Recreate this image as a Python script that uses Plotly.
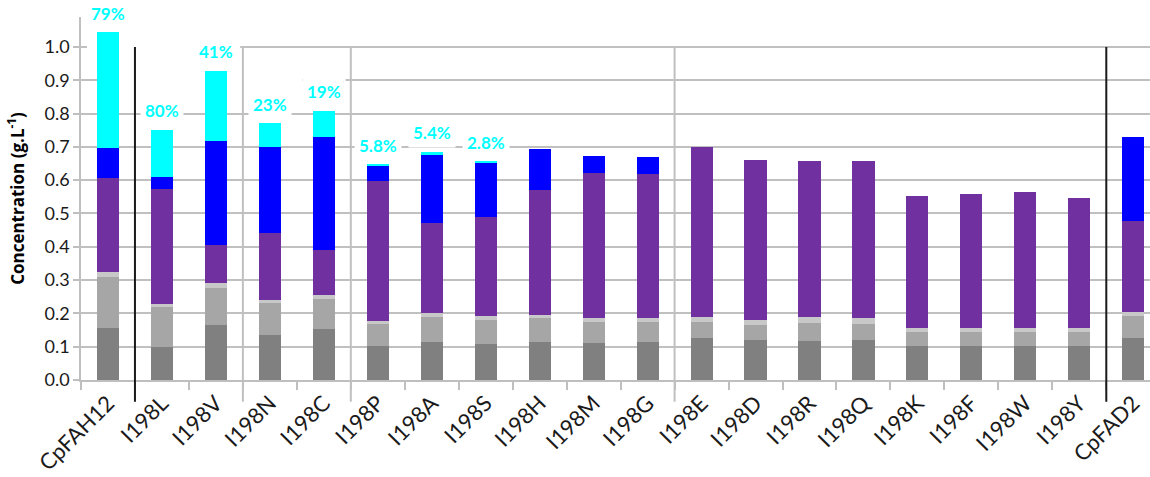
import plotly.graph_objects as go

categories = ["CpFAH12", "I198L", "I198V", "I198N", "I198C", "I198P", "I198A", "I198S",
              "I198H", "I198M", "I198G", "I198E", "I198D", "I198R", "I198Q", "I198K",
              "I198F", "I198W", "I198Y", "CpFAD2"]

seg_dark_gray = [0.157, 0.100, 0.165, 0.135, 0.152, 0.103, 0.113, 0.108, 0.113, 0.111,
                 0.113, 0.125, 0.119, 0.117, 0.120, 0.103, 0.103, 0.103, 0.103, 0.125]
seg_light_gray = [0.153, 0.120, 0.112, 0.098, 0.091, 0.065, 0.077, 0.072, 0.072, 0.062,
                  0.060, 0.048, 0.046, 0.055, 0.048, 0.040, 0.040, 0.040, 0.040, 0.068]
seg_pale_gray = [0.015, 0.007, 0.015, 0.006, 0.011, 0.010, 0.010, 0.011, 0.009, 0.012,
                 0.012, 0.017, 0.015, 0.016, 0.017, 0.013, 0.013, 0.013, 0.013, 0.012]
seg_purple = [0.281, 0.347, 0.113, 0.203, 0.136, 0.420, 0.272, 0.298, 0.377, 0.437,
              0.434, 0.511, 0.481, 0.471, 0.474, 0.396, 0.402, 0.408, 0.392, 0.272]
seg_blue = [0.090, 0.037, 0.312, 0.257, 0.341, 0.045, 0.203, 0.163, 0.124, 0.052,
            0.050, 0, 0, 0, 0, 0, 0, 0, 0, 0.253]
seg_cyan = [0.348, 0.140, 0.212, 0.072, 0.078, 0.003, 0.011, 0.005, 0, 0,
            0, 0, 0, 0, 0, 0, 0, 0, 0, 0]
pct_labels = ["79%", "80%", "41%", "23%", "19%", "5.8%", "5.4%", "2.8%", "", "",
              "", "", "", "", "", "", "", "", "", ""]

y_tick_vals = [0.0, 0.1, 0.2, 0.3, 0.4, 0.5, 0.6, 0.7, 0.8, 0.9, 1.0]
y_tick_text = ["0.0", "0.1", "0.2", "0.3", "0.4", "0.5", "0.6", "0.7", "0.8", "0.9", "1.0"]

divider_after = ["CpFAH12", "I198V", "I198C", "I198G", "I198Y"]
divider_colors = ["#1a1a1a", "#c0c0c0", "#c0c0c0", "#c0c0c0", "#1a1a1a"]

Y_MAX = 1.09
FONT = "Lato"

series = [
    (seg_dark_gray, "#808080"),
    (seg_light_gray, "#a6a6a6"),
    (seg_pale_gray, "#c8c8c8"),
    (seg_purple, "#7030a0"),
    (seg_blue, "#0000ff"),
    (seg_cyan, "#00ffff"),
]

fig = go.Figure()
for vals, color in series:
    fig.add_trace(go.Bar(
        x=categories, y=vals, marker=dict(color=color, line=dict(width=0)),
        showlegend=False, hoverinfo="x+y",
    ))

totals = [sum(s[0][i] for s in series) for i in range(len(categories))]
for cat, tot, lab in zip(categories, totals, pct_labels):
    if lab:
        fig.add_annotation(
            x=cat, y=tot, xref="x", yref="y", text="<b>" + lab + "</b>",
            showarrow=False, yanchor="middle", yshift=19,
            font=dict(family=FONT, size=17, color="#00ffff"),
            bgcolor="white", borderpad=4,
        )

# white masks that interrupt the upper gridlines as in the reference
for x0, x1, yv in [(-0.39, 2.45, 1.0), (0.2, 3.6, 0.9)]:
    fig.add_shape(type="rect", xref="x", yref="y", x0=x0, x1=x1,
                  y0=yv - 0.01, y1=yv + 0.01, fillcolor="white",
                  line=dict(width=0), layer="between")

for name, col in zip(divider_after, divider_colors):
    xpos = categories.index(name) + 0.5
    fig.add_shape(
        type="line", xref="x", yref="paper", x0=xpos, x1=xpos,
        y0=-0.06, y1=1.0 / Y_MAX, line=dict(color=col, width=2), layer="above",
    )

fig.update_layout(
    template="none",
    width=1150, height=477,
    margin=dict(l=81, r=0, t=17, b=97),
    barmode="stack", bargap=0.59,
    plot_bgcolor="white", paper_bgcolor="white",
    font=dict(family=FONT, color="#1a1a1a"),
    showlegend=False,
)
fig.update_xaxes(
    type="category", range=[-0.5, 19.31], automargin=False,
    tickangle=-45, tickfont=dict(family=FONT, size=22, color="#1a1a1a"),
    showgrid=False, showline=True, linecolor="#bfbfbf", linewidth=1.5,
    ticks="outside", tickson="boundaries", ticklen=8, tickcolor="#bfbfbf", tickwidth=1.5,
)
fig.update_yaxes(
    range=[0, Y_MAX], automargin=False,
    tickvals=y_tick_vals, ticktext=y_tick_text,
    tickfont=dict(family=FONT, size=18, color="#1a1a1a"),
    showgrid=True, gridcolor="#c0c0c0", gridwidth=1.5,
    showline=True, linecolor="#bfbfbf", linewidth=1.5,
    ticks="outside", ticklen=6, tickcolor="#bfbfbf", tickwidth=1.5,
    zeroline=False,
    title=dict(text="<b>Concentration (g.L<sup>-1</sup>)</b>",
               font=dict(family="Open Sans", size=17, color="#000000"), standoff=16),
)

fig.write_html("out.html", config={"displayModeBar": False},
               post_script="document.body.style.margin='0px';")
